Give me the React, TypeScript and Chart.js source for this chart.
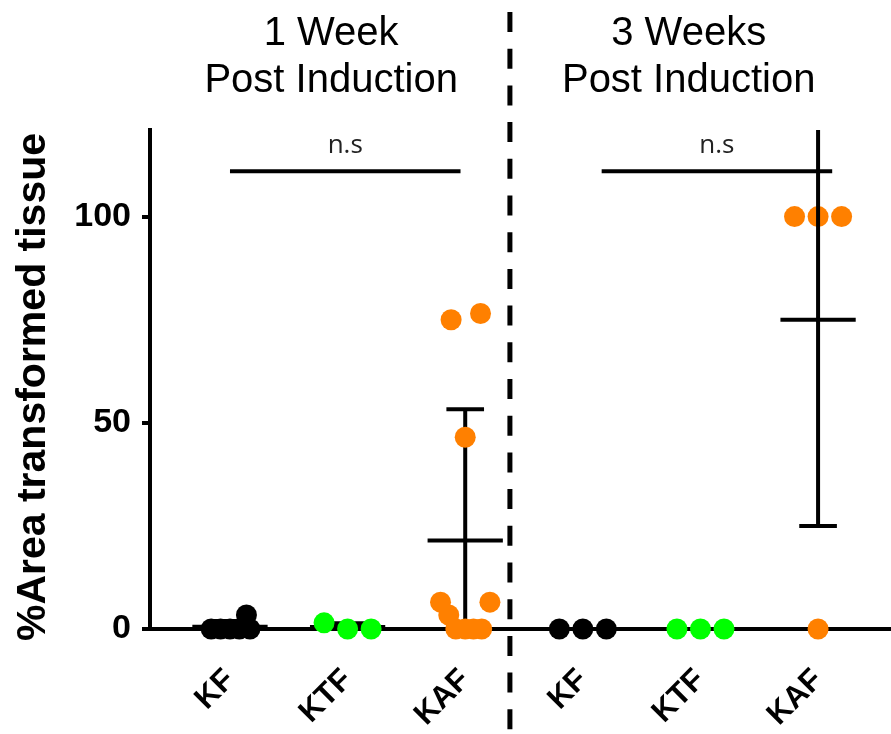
import React, { useEffect, useRef } from 'react';
import { Chart, registerables } from 'chart.js';

Chart.register(...registerables);

// ---- data ----
const categories = ['KF', 'KTF', 'KAF', 'KF', 'KTF', 'KAF'];
const periodTitles = [
  ['1 Week', 'Post Induction'],
  ['3 Weeks', 'Post Induction'],
];
const titleCenters = [1.86, 4.9];
const yTicks = [0, 50, 100];
const yMin = 0;
const yMax = 121;
const xMin = 0.32;
const xMax = 6.62;
const yAxisTitle = '%Area transformed tissue';

const kf1Values = [0, 0, 0, 0, 0, 3.4];
const kf1Jitter = [-0.16, -0.08, 0, 0.08, 0.17, 0.14];
const ktf1Values = [1.5, 0, 0];
const ktf1Jitter = [-0.2, 0, 0.2];
const kaf1Values = [75, 76.5, 46.5, 6.5, 6.5, 3.4, 0, 0, 0, 0];
const kaf1Jitter = [-0.12, 0.13, 0, -0.21, 0.21, -0.14, -0.08, 0, 0.07, 0.14];
const kf3Values = [0, 0, 0];
const kf3Jitter = [-0.2, 0, 0.2];
const ktf3Values = [0, 0, 0];
const ktf3Jitter = [-0.2, 0, 0.2];
const kaf3Values = [100, 100, 100, 0];
const kaf3Jitter = [-0.2, 0, 0.2, 0];

const groupColors = ['#000000', '#00ff00', '#ff8000', '#000000', '#00ff00', '#ff8000'];
const errorOnTop = [false, false, false, false, false, true];

const sigFrom = [1.0, 4.16];
const sigTo = [2.96, 6.12];
const sigY = [111, 111];
const sigLabels = ['n.s', 'n.s'];
const dividerX = 3.38;

const groups = [
  { values: kf1Values, jitter: kf1Jitter },
  { values: ktf1Values, jitter: ktf1Jitter },
  { values: kaf1Values, jitter: kaf1Jitter },
  { values: kf3Values, jitter: kf3Jitter },
  { values: ktf3Values, jitter: ktf3Jitter },
  { values: kaf3Values, jitter: kaf3Jitter },
];

const MEAN_HALF = 0.32;
const CAP_HALF = 0.16;

function drawErrorBars(chart: any, onTop: boolean) {
  const { ctx, chartArea, scales } = chart;
  const x = scales.x;
  const y = scales.y;
  ctx.save();
  ctx.beginPath();
  ctx.rect(chartArea.left, chartArea.top, chartArea.right - chartArea.left, chartArea.bottom - chartArea.top);
  ctx.clip();
  ctx.strokeStyle = '#000';
  ctx.lineWidth = 4;
  ctx.lineCap = 'butt';
  groups.forEach((g, i) => {
    if (errorOnTop[i] !== onTop) return;
    const n = g.values.length;
    const mean = g.values.reduce((a, b) => a + b, 0) / n;
    const sd = Math.sqrt(g.values.reduce((a, b) => a + (b - mean) * (b - mean), 0) / (n - 1));
    const cx = x.getPixelForValue(i + 1);
    const hw = x.getPixelForValue(i + 1 + MEAN_HALF) - cx;
    const cw = x.getPixelForValue(i + 1 + CAP_HALF) - cx;
    const ym = y.getPixelForValue(mean);
    const yt = y.getPixelForValue(mean + sd);
    const yb = y.getPixelForValue(mean - sd);
    ctx.beginPath();
    ctx.moveTo(cx, yt);
    ctx.lineTo(cx, yb);
    ctx.moveTo(cx - hw, ym);
    ctx.lineTo(cx + hw, ym);
    ctx.moveTo(cx - cw, yt);
    ctx.lineTo(cx + cw, yt);
    ctx.moveTo(cx - cw, yb);
    ctx.lineTo(cx + cw, yb);
    ctx.stroke();
  });
  ctx.restore();
}

const decorPlugin = {
  id: 'decor',
  beforeDatasetsDraw(chart: any) {
    drawErrorBars(chart, false);
  },
  afterDatasetsDraw(chart: any) {
    drawErrorBars(chart, true);
  },
  afterDraw(chart: any) {
    const { ctx, scales } = chart;
    const x = scales.x;
    const y = scales.y;
    ctx.save();
    // significance bars
    sigFrom.forEach((f, i) => {
      const x1 = x.getPixelForValue(f);
      const x2 = x.getPixelForValue(sigTo[i]);
      const py = y.getPixelForValue(sigY[i]);
      ctx.strokeStyle = '#000';
      ctx.lineWidth = 4;
      ctx.beginPath();
      ctx.moveTo(x1, py);
      ctx.lineTo(x2, py);
      ctx.stroke();
      ctx.fillStyle = '#222';
      ctx.font = '26px "Open Sans", "Liberation Sans", sans-serif';
      ctx.textAlign = 'center';
      ctx.textBaseline = 'alphabetic';
      ctx.fillText(sigLabels[i], (x1 + x2) / 2, py - 18);
    });
    // period titles
    periodTitles.forEach((lines, i) => {
      const cx = x.getPixelForValue(titleCenters[i]);
      ctx.fillStyle = '#000';
      ctx.font = '40px "Liberation Sans", Arial, sans-serif';
      ctx.textAlign = 'center';
      ctx.textBaseline = 'alphabetic';
      ctx.fillText(lines[0], cx, 45);
      ctx.fillText(lines[1], cx, 92);
    });
    // y-axis title
    ctx.save();
    ctx.translate(34, 387);
    ctx.rotate(-Math.PI / 2);
    ctx.fillStyle = '#000';
    ctx.font = 'bold 41px "Liberation Sans", Arial, sans-serif';
    ctx.textAlign = 'center';
    ctx.textBaseline = 'middle';
    ctx.fillText(yAxisTitle, 0, 0);
    ctx.restore();
    // dashed divider
    const dx = x.getPixelForValue(dividerX);
    ctx.strokeStyle = '#000';
    ctx.lineWidth = 5;
    ctx.setLineDash([20, 16.7]);
    ctx.beginPath();
    ctx.moveTo(dx, 12);
    ctx.lineTo(dx, chart.height);
    ctx.stroke();
    ctx.restore();
  },
};

export default function App() {
  const ref = useRef<HTMLCanvasElement>(null);

  useEffect(() => {
    const canvas = ref.current;
    if (!canvas) return;
    const datasets = groups.map((g, i) => ({
      label: categories[i],
      data: g.values.map((v, j) => ({ x: i + 1 + g.jitter[j], y: v })),
      backgroundColor: groupColors[i],
      borderColor: groupColors[i],
      borderWidth: 0,
      pointRadius: 10.5,
      pointHoverRadius: 10.5,
      clip: false as any,
    }));
    const chart = new Chart(canvas, {
      type: 'scatter',
      data: { datasets },
      plugins: [decorPlugin],
      options: {
        responsive: false,
        animation: false,
        layout: { autoPadding: false, padding: { top: 130, left: 0, right: 0, bottom: 0 } },
        plugins: { legend: { display: false }, tooltip: { enabled: false } },
        scales: {
          x: {
            type: 'linear',
            min: xMin,
            max: xMax,
            afterFit: (s: any) => {
              s.height = 105;
              s.paddingLeft = 0;
              s.paddingRight = 0;
            },
            afterBuildTicks: (s: any) => {
              s.ticks = categories.map((_, i) => ({ value: i + 1 }));
            },
            grid: { drawOnChartArea: false, drawTicks: true, tickLength: 6, color: '#000', lineWidth: 3 },
            border: { display: true, color: '#000', width: 4 },
            ticks: {
              autoSkip: false,
              maxRotation: 45,
              minRotation: 45,
              padding: 27,
              color: '#000',
              font: { family: '"Liberation Sans", Arial, sans-serif', size: 31, weight: 'bold' },
              callback: (_v: any, idx: number) => categories[idx],
            },
          },
          y: {
            type: 'linear',
            min: yMin,
            max: yMax,
            afterFit: (s: any) => {
              s.width = 150;
              s.paddingTop = 0;
              s.paddingBottom = 0;
            },
            afterBuildTicks: (s: any) => {
              s.ticks = yTicks.map((v) => ({ value: v }));
            },
            grid: { drawOnChartArea: false, drawTicks: true, tickLength: 8, color: '#000', lineWidth: 4 },
            border: { display: true, color: '#000', width: 4 },
            ticks: {
              color: '#000',
              padding: 11,
              font: { family: '"Liberation Sans", Arial, sans-serif', size: 34, weight: 'bold' },
            },
          },
        },
      } as any,
    });
    return () => chart.destroy();
  }, []);

  return (
    <div style={{ position: 'absolute', left: 0, top: 0, width: 891, height: 734, background: '#fff' }}>
      <canvas ref={ref} width={891} height={734} style={{ display: 'block', width: 891, height: 734 }} />
    </div>
  );
}
